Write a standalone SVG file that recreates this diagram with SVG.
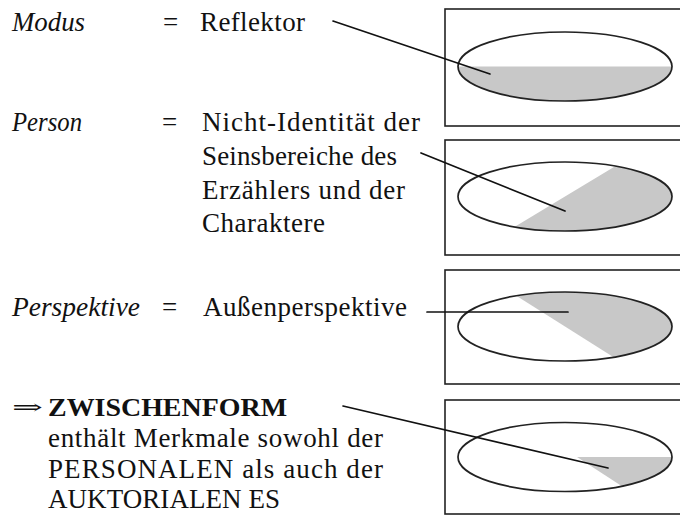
<svg xmlns="http://www.w3.org/2000/svg" width="680" height="516" viewBox="0 0 680 516">
<style>
  text { font-family: "Liberation Serif", "DejaVu Serif", serif; font-size: 27px; fill: #111; }
  .it { font-style: italic; }
  .bd { font-weight: bold; font-size: 26px; }
  .arr { font-family: "DejaVu Serif", "DejaVu Sans", serif; font-size: 20px; }
  .box { fill: #fff; stroke: #222; stroke-width: 1.6; }
  .ell { fill: none; stroke: #222; stroke-width: 1.7; }
  .shade { fill: #c8c8c8; stroke: none; }
  .conn { stroke: #111; stroke-width: 1.7; fill: none; stroke-linecap: round; }
</style>
<rect width="680" height="516" fill="#fff"/>

<g id="row-modus">
  <text class="it" x="12" y="31" textLength="73" lengthAdjust="spacingAndGlyphs">Modus</text>
  <text x="163" y="31">=</text>
  <text x="200" y="31" textLength="105">Reflektor</text>
</g>

<g id="row-person">
  <text class="it" x="12" y="131" textLength="70" lengthAdjust="spacingAndGlyphs">Person</text>
  <text x="162" y="131">=</text>
  <text x="202" y="131" textLength="218">Nicht-Identität der</text>
  <text x="202" y="165" textLength="195">Seinsbereiche des</text>
  <text x="202" y="199" textLength="203">Erzählers und der</text>
  <text x="202" y="232" textLength="123">Charaktere</text>
</g>

<g id="row-perspektive">
  <text class="it" x="12" y="316" textLength="128" lengthAdjust="spacingAndGlyphs">Perspektive</text>
  <text x="162" y="316">=</text>
  <text x="203" y="316" textLength="204">Außenperspektive</text>
</g>

<g id="row-zwischenform">
  <text class="arr" x="12" y="414" textLength="31" lengthAdjust="spacingAndGlyphs">⇒</text>
  <text class="bd" x="48" y="416" textLength="239" lengthAdjust="spacingAndGlyphs">ZWISCHENFORM</text>
  <text x="48" y="447" textLength="335">enthält Merkmale sowohl der</text>
  <text x="48" y="478" textLength="335">PERSONALEN als auch der</text>
  <text x="48" y="508" textLength="232">AUKTORIALEN ES</text>
</g>

<g id="box-modus">
  <rect class="box" x="445" y="9" width="250" height="117"/>
  <path class="shade" d="M458,66.5 A107,34.5 0 0 0 672,66.5 Z"/>
  <ellipse class="ell" cx="565" cy="66.5" rx="107" ry="34.5"/>
</g>

<g id="box-person">
  <rect class="box" x="445" y="140" width="250" height="115"/>
  <path class="shade" d="M514.4,226.9 L615.6,166.1 A107,34.5 0 0 1 672,196.5 A107,34.5 0 0 1 514.4,226.9 Z"/>
  <ellipse class="ell" cx="565" cy="196.5" rx="107" ry="34.5"/>
</g>

<g id="box-perspektive">
  <rect class="box" x="445" y="270" width="250" height="114"/>
  <path class="shade" d="M516.3,295.8 L613.7,357.2 A107,34.5 0 0 0 672,326.5 A107,34.5 0 0 0 516.3,295.8 Z"/>
  <ellipse class="ell" cx="565" cy="326.5" rx="107" ry="34.5"/>
</g>

<g id="box-zwischenform">
  <rect class="box" x="445" y="400" width="250" height="114"/>
  <path class="shade" d="M577,457 L672,457 A107,34.5 0 0 1 622,486.2 Z"/>
  <ellipse class="ell" cx="565" cy="457" rx="107" ry="34.5"/>
</g>

<g id="connectors">
  <line class="conn" x1="333" y1="21" x2="490" y2="74"/>
  <line class="conn" x1="421" y1="153" x2="565" y2="211"/>
  <line class="conn" x1="427" y1="312" x2="568" y2="312"/>
  <line class="conn" x1="343" y1="406" x2="608" y2="468"/>
</g>
</svg>
